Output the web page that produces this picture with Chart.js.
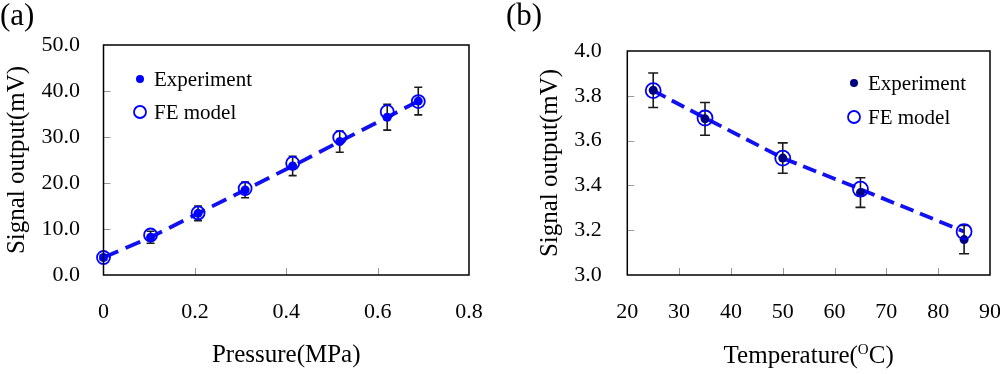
<!DOCTYPE html>
<html>
<head>
<meta charset="utf-8">
<script src="https://cdn.jsdelivr.net/npm/chart.js@4/dist/chart.umd.min.js"></script>
<style>
  body { margin: 0; background: #fff; }
  #wrap { position: relative; width: 1000px; height: 374px; }
  canvas { position: absolute; top: 0; }
  .tag { position: absolute; top: -3px; font: 31px "Liberation Serif", serif; color: #000; }
</style>
</head>
<body>
<div id="wrap">
  <canvas id="pressureChart" width="500" height="374" style="left:0"></canvas>
  <canvas id="tempChart" width="500" height="374" style="left:500px"></canvas>
  <div class="tag" style="left:0">(a)</div>
  <div class="tag" style="left:506px">(b)</div>
</div>
<script>
// (a) pressure sweep
const pressure = [0, 0.103, 0.207, 0.310, 0.414, 0.517, 0.621, 0.689];
const pressureExp = [3.8, 8.2, 13.4, 18.5, 23.7, 29.0, 34.3, 37.8];
const pressureExpErr = [0.5, 1.3, 1.6, 1.7, 2.1, 2.3, 2.8, 3.0];
const pressureFE = [3.8, 8.7, 13.5, 18.8, 24.3, 29.9, 35.5, 37.7];
const pressureTicks = [0, 0.2, 0.4, 0.6, 0.8];
const signalTicksA = [0, 10, 20, 30, 40, 50];

// (b) temperature sweep
const temperature = [25, 35, 50, 65, 85];
const tempExp = [3.825, 3.697, 3.522, 3.368, 3.158];
const tempExpErr = [0.077, 0.073, 0.068, 0.066, 0.063];
const tempFE = [3.823, 3.701, 3.522, 3.383, 3.194];
const tempTicks = [20, 30, 40, 50, 60, 70, 80, 90];
const signalTicksB = [3.0, 3.2, 3.4, 3.6, 3.8, 4.0];

const legendLabels = ['Experiment', 'FE model'];

const FONT = '"Liberation Serif", serif';
Chart.defaults.color = '#000';
Chart.defaults.font.family = FONT;

function pts(xs, ys) {
    return xs.map((x, i) => ({ x: x, y: ys[i] }));
}

// error bars, drawn just before the experiment dots
const errorBars = {
    id: 'errorBars',
    beforeDatasetDraw(chart, args, opts) {
        if (args.index !== opts.dataset) return;
        const ctx = chart.ctx;
        const xs = chart.scales.x, ys = chart.scales.y;
        ctx.save();
        ctx.strokeStyle = '#1a1a1a';
        ctx.lineWidth = 1.6;
        opts.xs.forEach((x, i) => {
            const px = xs.getPixelForValue(x);
            const top = ys.getPixelForValue(opts.ys[i] + opts.errs[i]);
            const bot = ys.getPixelForValue(opts.ys[i] - opts.errs[i]);
            ctx.beginPath();
            ctx.moveTo(px, top); ctx.lineTo(px, bot);
            ctx.moveTo(px - opts.cap, top); ctx.lineTo(px + opts.cap, top);
            ctx.moveTo(px - opts.cap, bot); ctx.lineTo(px + opts.cap, bot);
            ctx.stroke();
        });
        ctx.restore();
    }
};

// frame around the plot plus short inward ticks
const frame = {
    id: 'frame',
    afterDatasetsDraw(chart) {
        const ctx = chart.ctx;
        const a = chart.chartArea;
        ctx.save();
        ctx.strokeStyle = '#999';
        ctx.lineWidth = 1;
        chart.scales.y.ticks.slice(1, -1).forEach(t => {
            const py = Math.round(chart.scales.y.getPixelForValue(t.value)) + 0.5;
            ctx.beginPath(); ctx.moveTo(a.left, py); ctx.lineTo(a.left + 7, py); ctx.stroke();
        });
        chart.scales.x.ticks.slice(1, -1).forEach(t => {
            const px = Math.round(chart.scales.x.getPixelForValue(t.value)) + 0.5;
            ctx.beginPath(); ctx.moveTo(px, a.bottom); ctx.lineTo(px, a.bottom - 7); ctx.stroke();
        });
        ctx.strokeStyle = '#000';
        ctx.lineWidth = 1.5;
        ctx.strokeRect(a.left, a.top, a.right - a.left, a.bottom - a.top);
        ctx.restore();
    }
};

// two-row legend inside the plot
const pointLegend = {
    id: 'pointLegend',
    afterDraw(chart, args, opts) {
        const ctx = chart.ctx;
        ctx.save();
        ctx.font = '21px ' + FONT;
        ctx.textBaseline = 'middle';
        ctx.fillStyle = '#000';
        legendLabels.forEach((label, i) => {
            const y = opts.rows[i];
            ctx.beginPath();
            if (i === 0) {
                ctx.fillStyle = opts.dotColor;
                ctx.arc(opts.markerX, y, 4, 0, Math.PI * 2);
                ctx.fill();
            } else {
                ctx.strokeStyle = '#0000ff';
                ctx.lineWidth = 1.8;
                ctx.arc(opts.markerX, y, 6, 0, Math.PI * 2);
                ctx.stroke();
            }
            ctx.fillStyle = '#000';
            ctx.fillText(label, opts.textX, y + 1);
        });
        ctx.restore();
    }
};

// x title with a superscript O for panel (b)
const tempTitle = {
    id: 'tempTitle',
    afterDraw(chart) {
        const ctx = chart.ctx;
        const a = chart.chartArea;
        const big = '25px ' + FONT, small = '15px ' + FONT;
        const parts = [['Temperature(', big, 0], ['O', small, -9], ['C)', big, 0]];
        ctx.save();
        ctx.fillStyle = '#000';
        ctx.textBaseline = 'alphabetic';
        let total = 0;
        parts.forEach(p => { ctx.font = p[1]; total += ctx.measureText(p[0]).width; });
        let x = (a.left + a.right) / 2 - total / 2;
        const base = 363;
        parts.forEach(p => {
            ctx.font = p[1];
            ctx.fillText(p[0], x, base + p[2]);
            x += ctx.measureText(p[0]).width;
        });
        ctx.restore();
    }
};

function axisX(ticks, fmt, title) {
    return {
        type: 'linear',
        min: ticks[0],
        max: ticks[ticks.length - 1],
        afterBuildTicks: s => { s.ticks = ticks.map(v => ({ value: v })); },
        afterFit: s => { s.height = 99; s.paddingLeft = 0; s.paddingRight = 0; },
        grid: { display: false },
        border: { display: false },
        ticks: { font: { size: 22 }, padding: 16, maxRotation: 0, callback: fmt },
        title: title ? { display: true, text: title, font: { size: 25 }, padding: { bottom: 4 } } : { display: false }
    };
}

function axisY(ticks, width, pad, titlePad) {
    return {
        type: 'linear',
        min: ticks[0],
        max: ticks[ticks.length - 1],
        afterBuildTicks: s => { s.ticks = ticks.map(v => ({ value: v })); },
        afterFit: s => { s.width = width; s.paddingTop = 0; s.paddingBottom = 0; },
        grid: { display: false },
        border: { display: false },
        ticks: { font: { size: 22 }, padding: pad, callback: v => v.toFixed(1) },
        title: { display: true, text: 'Signal output(mV)', font: { size: 25 }, padding: { top: titlePad } }
    };
}

function makeChart(id, cfg) {
    return new Chart(document.getElementById(id), {
        type: 'scatter',
        data: {
            datasets: [
                {
                    data: pts(cfg.xs, cfg.fe),
                    pointRadius: cfg.ring,
                    pointBackgroundColor: 'rgba(0,0,0,0)',
                    pointBorderColor: '#0000ff',
                    pointBorderWidth: 1.8,
                    clip: false
                },
                {
                    data: pts(cfg.xs, cfg.exp),
                    pointRadius: 4.5,
                    pointBackgroundColor: cfg.dotColor,
                    pointBorderWidth: 0,
                    clip: false
                },
                {
                    data: pts(cfg.xs, cfg.lineYs),
                    showLine: true,
                    borderColor: '#1010f0',
                    borderWidth: 3.8,
                    borderDash: cfg.dash,
                    pointRadius: 0,
                    clip: false
                }
            ]
        },
        options: {
            responsive: false,
            animation: false,
            devicePixelRatio: 1,
            layout: { padding: cfg.padding },
            scales: {
                x: cfg.x,
                y: cfg.y
            },
            plugins: {
                legend: { display: false },
                tooltip: { enabled: false },
                errorBars: { dataset: 1, xs: cfg.xs, ys: cfg.exp, errs: cfg.err, cap: cfg.cap },
                pointLegend: cfg.legend
            }
        },
        plugins: cfg.extra
    });
}

makeChart('pressureChart', {
    xs: pressure, exp: pressureExp, fe: pressureFE, err: pressureExpErr,
    lineYs: pressureExp, dotColor: '#0000ff', ring: 6.5, cap: 4, dash: [16, 8],
    padding: { top: 45, right: 31, left: 0, bottom: 0 },
    x: axisX(pressureTicks, v => String(v), 'Pressure(MPa)'),
    y: axisY(signalTicksA, 103.5, 15.5, 2.6),
    legend: { markerX: 140, textX: 154, rows: [79, 112], dotColor: '#0000ff' },
    extra: [errorBars, frame, pointLegend]
});

makeChart('tempChart', {
    xs: temperature, exp: tempExp, fe: tempFE, err: tempExpErr,
    lineYs: tempFE, dotColor: '#000080', ring: 7.5, cap: 5, dash: [14, 7],
    padding: { top: 51, right: 10, left: 0, bottom: 0 },
    x: axisX(tempTicks, v => String(v), null),
    y: axisY(signalTicksB, 127.3, 17.6, 35),
    legend: { markerX: 354, textX: 368, rows: [83, 117], dotColor: '#000080' },
    extra: [errorBars, frame, pointLegend, tempTitle]
});
</script>
</body>
</html>
